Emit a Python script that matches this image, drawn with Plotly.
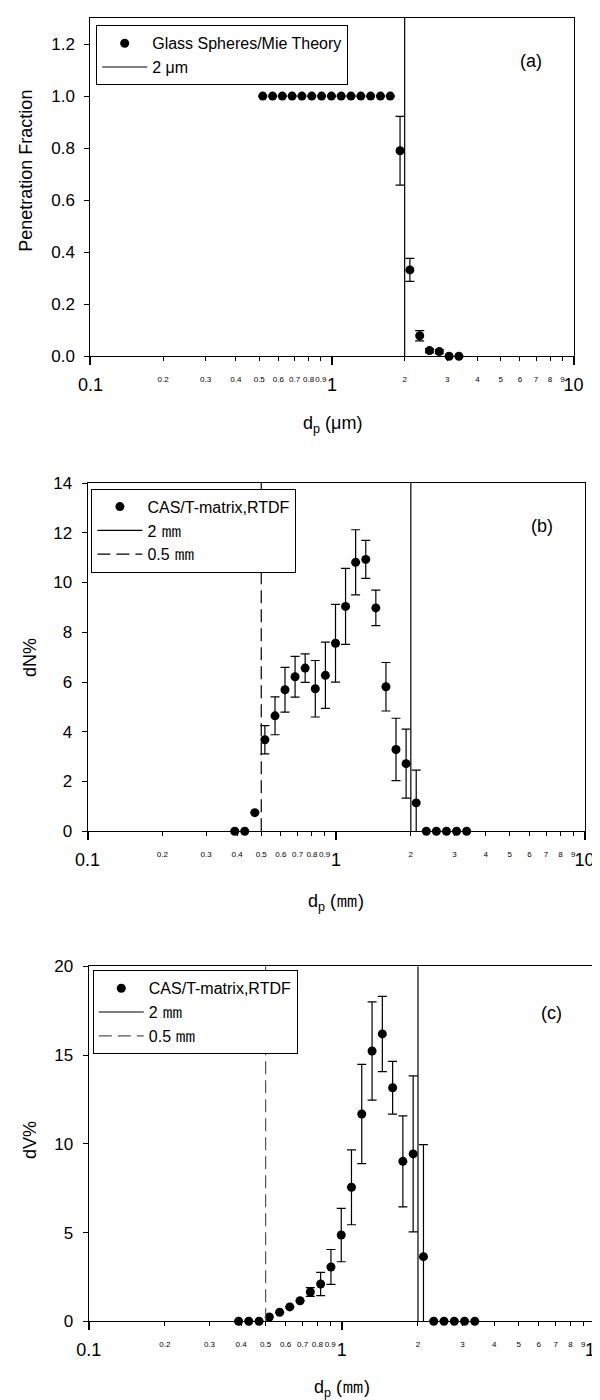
import plotly.graph_objects as go

# ---------------- data ----------------
x_a = [0.517, 0.568, 0.623, 0.684, 0.751, 0.825, 0.906, 0.995, 1.092, 1.199,
       1.317, 1.446, 1.588, 1.743, 1.914, 2.102, 2.308, 2.534, 2.782, 3.055, 3.354]
y_a = [1.0, 1.0, 1.0, 1.0, 1.0, 1.0, 1.0, 1.0, 1.0, 1.0,
       1.0, 1.0, 1.0, 1.0, 0.79, 0.332, 0.079, 0.022, 0.018, 0.0, 0.0]
err_a = [0, 0, 0, 0, 0, 0, 0, 0, 0, 0,
         0, 0, 0, 0, 0.132, 0.044, 0.02, 0.008, 0.008, 0, 0]

x_bc = [0.391, 0.429, 0.471, 0.517, 0.568, 0.623, 0.684, 0.751, 0.825, 0.906, 0.995, 1.092,
        1.199, 1.317, 1.446, 1.588, 1.743, 1.914, 2.102, 2.308, 2.534, 2.782, 3.055, 3.354]
y_b = [0, 0, 0.75, 3.68, 4.64, 5.69, 6.21, 6.56, 5.73, 6.27, 7.56, 9.04,
       10.81, 10.93, 8.98, 5.81, 3.29, 2.72, 1.14, 0, 0, 0, 0, 0]
err_b = [0, 0, 0, 0.57, 0.76, 0.90, 0.82, 0.575, 1.135, 1.33, 1.565, 1.53,
         1.31, 0.76, 0.715, 0.975, 1.255, 1.39, 1.32, 0, 0, 0, 0, 0]
y_c = [0, 0, 0, 0.24, 0.51, 0.81, 1.16, 1.65, 2.10, 3.06, 4.86, 7.55,
       11.68, 15.23, 16.19, 13.16, 9.01, 9.43, 3.64, 0, 0, 0, 0, 0]
err_c = [0, 0, 0, 0, 0, 0, 0, 0.25, 0.655, 0.985, 1.505, 2.11,
         2.8, 2.77, 2.12, 1.485, 2.565, 4.395, 6.31, 0, 0, 0, 0, 0]

cut_hi = 2.0
cut_lo = 0.5
yr_a = [0, 1.3]
yr_b = [0, 14]
yr_c = [0, 20]

major_vals = [0.1, 1, 10]
major_text = ["0.1", "1", "10"]
minor_vals = [0.2, 0.3, 0.4, 0.5, 0.6, 0.7, 0.8, 0.9, 2, 3, 4, 5, 6, 7, 8, 9]
minor_text = ["0.2", "0.3", "0.4", "0.5", "0.6", "0.7", "0.8", "0.9",
              "2", "3", "4", "5", "6", "7", "8", "9"]

FONT = "Liberation Sans, Arial, sans-serif"
W, H = 600, 1400

MM_LEG = '<span style="font-size:21px">㎜</span>'
MM_TTL = '<span style="font-size:22px">㎜</span>'

# plot frames in pixels (left, right, top, bottom)
frames = {
    "a": (82.4, 565.5, 10.0, 348.3),
    "b": (79.6, 576.5, 475.0, 823.3),
    "c": (80.7, 586.9, 958.3, 1313.3),
}


def dom(fr):
    l, r, t, b = fr
    return [l / W, r / W], [1 - b / H, 1 - t / H]


fig = go.Figure()


def add_panel(xs, ys, errs, name, xa, ya, leg, lines):
    # error bars (clipped to plot area)
    fig.add_trace(go.Scatter(
        x=xs, y=ys, mode="markers", xaxis=xa, yaxis=ya,
        marker=dict(size=9, color="rgba(0,0,0,0)"),
        error_y=dict(type="data", array=errs, visible=True, color="black",
                     thickness=1.2, width=4.5),
        cliponaxis=True, showlegend=False, hoverinfo="skip"))
    fig.add_trace(go.Scatter(
        x=xs, y=ys, mode="markers", xaxis=xa, yaxis=ya, name=name,
        marker=dict(size=9, color="black"), cliponaxis=False, legend=leg))
    for (lx, yr, lname, dash, col) in lines:
        fig.add_trace(go.Scatter(
            x=[lx, lx], y=yr, mode="lines", xaxis=xa, yaxis=ya, name=lname,
            line=dict(color=col, width=1.2, dash=dash), legend=leg,
            cliponaxis=True))


add_panel(x_a, y_a, err_a, "Glass Spheres/Mie Theory", "x", "y", "legend",
          [(cut_hi, yr_a, "2 μm", "solid", "black")])
add_panel(x_bc, y_b, err_b, "CAS/T-matrix,RTDF", "x2", "y2", "legend2",
          [(cut_hi, yr_b, "2 " + MM_LEG, "solid", "black"),
           (cut_lo, yr_b, "0.5 " + MM_LEG, "13px,6px", "black")])
add_panel(x_bc, y_c, err_c, "CAS/T-matrix,RTDF", "x3", "y3", "legend3",
          [(cut_hi, yr_c, "2 " + MM_LEG, "solid", "black"),
           (cut_lo, yr_c, "0.5 " + MM_LEG, "13px,6px", "#555555")])

# empty traces for minor-label overlay axes
for xa, ya in [("x4", "y"), ("x5", "y2"), ("x6", "y3")]:
    fig.add_trace(go.Scatter(x=[], y=[], xaxis=xa, yaxis=ya, showlegend=False,
                             hoverinfo="skip"))

layout = dict(
    width=W, height=H, margin=dict(l=0, r=0, t=0, b=0, autoexpand=False),
    paper_bgcolor="white", plot_bgcolor="white",
    font=dict(family=FONT, color="black", size=16),
    showlegend=True,
)


def xmajor(d, anchor):
    return dict(type="log", range=[-1, 1], domain=d, anchor=anchor,
                tickvals=major_vals, ticktext=major_text, ticks="outside",
                ticklen=8, tickwidth=2, tickcolor="black", tickangle=0,
                tickfont=dict(size=18, family=FONT), ticklabelstandoff=4,
                showline=True, linecolor="black", linewidth=1.2, mirror=True,
                showgrid=False, zeroline=False, automargin=False)


def xminor(d, anchor, over):
    return dict(type="log", range=[-1, 1], domain=d, anchor=anchor, overlaying=over,
                tickvals=minor_vals, ticktext=minor_text, ticks="outside",
                ticklen=3.5, tickwidth=1, tickcolor="black", tickangle=0,
                tickfont=dict(size=8, family=FONT), ticklabelstandoff=12,
                showline=False, showgrid=False, zeroline=False, side="bottom",
                automargin=False)


def yax(d, anchor, rng, dtick, fmt):
    return dict(range=rng, domain=d, anchor=anchor, dtick=dtick, tick0=0,
                tickformat=fmt, ticks="outside", ticklen=5, tickwidth=1,
                tickcolor="black", tickfont=dict(size=17, family=FONT),
                ticklabelstandoff=6, automargin=False,
                showline=True, linecolor="black", linewidth=1.2, mirror=True,
                showgrid=False, zeroline=False)


xd_a, yd_a = dom(frames["a"])
xd_b, yd_b = dom(frames["b"])
xd_c, yd_c = dom(frames["c"])

layout["xaxis"] = xmajor(xd_a, "y")
layout["xaxis2"] = xmajor(xd_b, "y2")
layout["xaxis3"] = xmajor(xd_c, "y3")
layout["xaxis4"] = xminor(xd_a, "y", "x")
layout["xaxis5"] = xminor(xd_b, "y2", "x2")
layout["xaxis6"] = xminor(xd_c, "y3", "x3")
layout["yaxis"] = yax(yd_a, "x", yr_a, 0.2, ".1f")
layout["yaxis2"] = yax(yd_b, "x2", yr_b, 2, "d")
layout["yaxis3"] = yax(yd_c, "x3", yr_c, 5, "d")


def leg(px, py):
    return dict(x=px / W, y=1 - py / H, xanchor="left", yanchor="top",
                bgcolor="white", bordercolor="black", borderwidth=1,
                font=dict(size=16, family=FONT), itemwidth=45,
                traceorder="normal", tracegroupgap=0)


layout["legend"] = leg(88.2, 17.3)
layout["legend2"] = leg(83.4, 480.7)
layout["legend3"] = leg(84.8, 962.3)

ann = []


def text(px, py, s, size=18, angle=0):
    ann.append(dict(x=px / W, y=1 - py / H, xref="paper", yref="paper",
                    text=s, showarrow=False, textangle=angle,
                    xanchor="center", yanchor="middle",
                    font=dict(size=size, family=FONT, color="black")))


text(17.7, 163, "Penetration Fraction", 18, -90)
text(22, 650, "dN%", 18, -90)
text(22, 1132, "dV%", 18, -90)
text(324, 417, "d<sub>p</sub> (μm)", 18)
text(328, 892, "d<sub>p</sub> (" + MM_TTL + ")", 18)
text(333.8, 1378, "d<sub>p</sub> (" + MM_TTL + ")", 18)
text(523, 53.3, "(a)", 18)
text(533.5, 518.3, "(b)", 18)
text(543.8, 1005, "(c)", 18)
layout["annotations"] = ann

fig.update_layout(**layout)
fig.write_html("out.html")
